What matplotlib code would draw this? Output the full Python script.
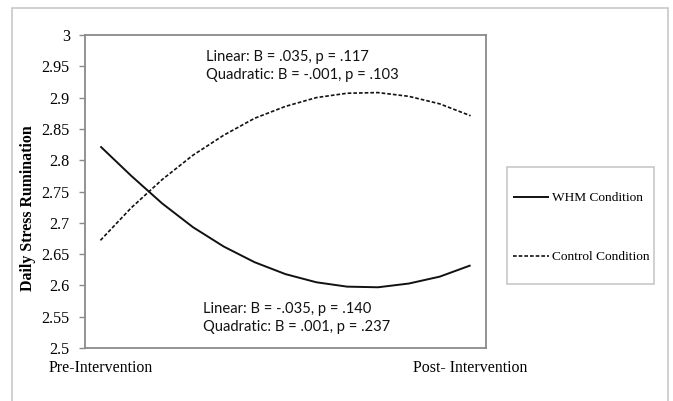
import numpy as np
import matplotlib
matplotlib.use("Agg")
import matplotlib.pyplot as plt
from matplotlib.patches import Rectangle
from matplotlib.ticker import FuncFormatter

# thirteen equally spaced measurement points between pre and post
whm = [2.822, 2.775, 2.731, 2.693, 2.662, 2.637, 2.618, 2.605, 2.598, 2.597, 2.603, 2.614, 2.632]
control = [2.672, 2.724, 2.769, 2.808, 2.840, 2.867, 2.886, 2.900, 2.907, 2.908, 2.902, 2.890, 2.871]
series_names = ["WHM Condition", "Control Condition"]
x_labels = ["Pre-Intervention", "Post- Intervention"]
y_ticks = [2.5, 2.55, 2.6, 2.65, 2.7, 2.75, 2.8, 2.85, 2.9, 2.95, 3.0]
control_note = ["Linear: B = .035, p = .117", "Quadratic: B = -.001, p = .103"]
whm_note = ["Linear: B = -.035, p = .140", "Quadratic: B = .001, p = .237"]

W, H = 673, 401
fig = plt.figure(figsize=(W / 100, H / 100), dpi=100)
fig.patch.set_facecolor("white")

# light frame around the whole chart area
fig.patches.append(Rectangle((12 / W, -0.05), 656 / W, 1 - 8 / H + 0.05,
                             transform=fig.transFigure, fill=False,
                             edgecolor="#c8c8c8", linewidth=1.2))
# legend box
fig.patches.append(Rectangle((507 / W, 1 - 284 / H), 147 / W, 117 / H,
                             transform=fig.transFigure, fill=False,
                             edgecolor="#c8c8c8", linewidth=1.2))

ax = fig.add_axes([85 / W, 1 - 348 / H, (486 - 85) / W, (348 - 35) / H])

serif = "Liberation Serif"
x = np.arange(len(whm))
l1, = ax.plot(x, whm, color="#111111", linewidth=1.4, solid_capstyle="butt")
l2, = ax.plot(x, control, color="#111111", linewidth=1.2, linestyle=(0, (2.2, 1.2)))

ax.set_xlim(-0.5, len(whm) - 0.5)
ax.set_ylim(2.5, 3.0)
ax.set_yticks(y_ticks)
ax.yaxis.set_major_formatter(FuncFormatter(lambda v, p: f"{v:g}"))
ax.set_xticks([0, len(whm) - 1])
ax.set_xticklabels(x_labels)

for s in ax.spines.values():
    s.set_color("#8a8a8a")
    s.set_linewidth(1.3)

ax.tick_params(axis="y", direction="out", length=4, width=1.0, color="#8a8a8a", pad=7,
               labelsize=11.6, labelcolor="black")
ax.tick_params(axis="x", length=0, pad=9, labelsize=11.4, labelcolor="black")
for lab in ax.get_xticklabels() + ax.get_yticklabels():
    lab.set_fontfamily(serif)

ax.set_ylabel("Daily Stress Rumination", fontfamily=serif, fontweight="bold",
              fontsize=11.4)
ax.yaxis.set_label_coords(-0.122, 0.447)

# trend test results for each condition
note_font = dict(fontfamily="Lato", fontsize=10.6, color="#111111", va="center", ha="left")
for i, t in enumerate(control_note):
    fig.text(206 / W, 1 - (57 + 18 * i) / H, t, **note_font)
for i, t in enumerate(whm_note):
    fig.text(203 / W, 1 - (309 + 18 * i) / H, t, **note_font)

fig.legend([l1, l2], series_names, loc="center left",
           bbox_to_anchor=(513 / W, 1 - 227.5 / H), borderaxespad=0,
           prop={"family": serif, "size": 9.6}, handlelength=2.7,
           handletextpad=0.2, labelspacing=3.5, borderpad=0,
           frameon=False)

fig.savefig("out.png", dpi=100)
